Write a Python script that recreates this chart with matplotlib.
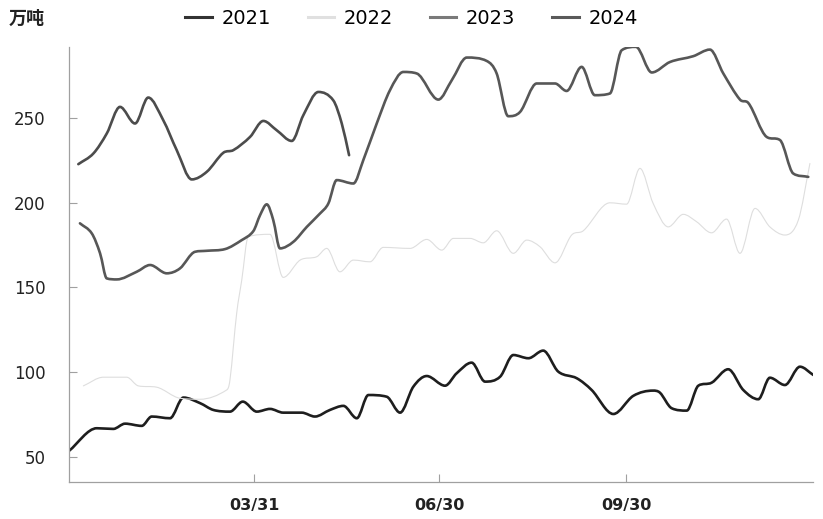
import numpy as np
import matplotlib
matplotlib.use("Agg")
import matplotlib.pyplot as plt
from matplotlib.path import Path
from matplotlib.patches import PathPatch
from matplotlib.lines import Line2D

plt.rcParams['font.family'] = ['DejaVu Sans', 'Noto Sans CJK SC']

# day of year (0 = Jan 1) and weekly stock, 万吨
days_2021 = [-2.2, 11.5, 19.6, 25.4, 33.6, 38.5, 47.5, 54.1, 62.3, 68.8, 77.0, 83.3,
             90.2, 96.7, 103.2, 112.3, 118.8, 126.2, 132.8, 139.4, 145.1, 154.1, 160.7,
             167.2, 173.8, 182.8, 188.5, 195.9, 202.5, 209.9, 216.4, 223.8, 231.1, 238.5,
             247.6, 254.9, 265.6, 275.4, 285.2, 288.5, 294.3, 301.7, 307.4, 314.0, 322.1,
             329.5, 336.9, 342.6, 350.0, 357.4, 364.0]
vals_2021 = [53.5, 66.9, 66.5, 69.6, 68.3, 73.8, 72.8, 85.0, 81.7, 77.7, 76.7, 82.6,
             76.7, 78.3, 76.1, 76.1, 73.8, 77.7, 80.1, 72.8, 86.5, 85.5, 76.1,
             91.4, 97.7, 92.0, 99.3, 105.6, 94.4, 97.3, 110.1, 108.2, 112.7, 100.3,
             96.4, 89.5, 75.3, 86.0, 89.1, 87.9, 78.7, 77.3, 92.0, 93.8, 101.7,
             89.5, 84.0, 96.7, 92.4, 103.2, 98.3]

days_2022 = [4.9, 14.7, 26.2, 31.9, 41.0, 52.4, 62.3, 75.4, 77.0, 80.3, 82.8, 86.0,
             96.7, 103.2, 111.5, 119.7, 124.6, 131.1, 137.7, 145.9, 152.4, 165.6, 173.8,
             181.2, 186.9, 195.1, 201.6, 208.2, 216.4, 223.0, 229.5, 236.9, 245.1, 250.8,
             263.9, 272.1, 278.7, 285.2, 292.6, 300.0, 306.6, 313.9, 321.3, 327.9, 335.3,
             342.6, 350.0, 356.6, 362.3]
vals_2022 = [91.9, 97.0, 97.0, 91.9, 91.1, 84.6, 84.0, 89.5, 95.4, 134.7, 154.3, 179.9,
             181.3, 155.9, 166.1, 168.1, 173.0, 159.2, 166.1, 165.1, 173.6, 173.0, 178.3,
             172.0, 178.9, 178.9, 176.3, 183.4, 170.1, 177.9, 174.0, 164.5, 180.9, 183.4,
             199.9, 199.1, 220.2, 199.5, 185.7, 193.1, 188.7, 182.2, 190.3, 170.1, 196.6,
             185.7, 180.9, 189.7, 223.1]

days_2023 = [3.2, 9.0, 13.1, 16.4, 21.3, 31.1, 37.7, 45.9, 52.4, 59.8, 65.6, 74.6,
             82.8, 88.5, 91.8, 95.1, 98.3, 101.6, 108.2, 114.8, 121.3, 125.4, 129.5,
             137.7, 142.6, 149.2, 155.7, 162.3, 168.9, 179.5, 186.2, 193.5, 203.3, 208.2,
             213.9, 219.7, 227.9, 236.9, 242.6, 250.0, 256.5, 263.9, 269.7, 276.7, 284.5,
             293.5, 304.9, 313.1, 319.7, 327.9, 332.0, 341.0, 347.6, 354.1, 361.5]
vals_2023 = [187.8, 181.9, 170.1, 155.3, 154.7, 159.2, 163.2, 158.3, 161.2, 171.0, 171.6, 172.6,
             177.9, 183.2, 192.6, 199.0, 189.7, 173.0, 176.9, 185.7, 193.6, 199.5, 213.3,
             211.3, 225.1, 246.7, 266.3, 277.1, 276.2, 260.8, 272.4, 285.6, 283.6, 276.2,
             251.0, 253.5, 270.3, 270.3, 265.9, 280.1, 263.4, 264.4, 289.9, 291.9, 276.8,
             283.0, 286.4, 290.3, 276.2, 260.8, 258.8, 238.8, 236.9, 217.2, 215.2]

days_2024 = [2.4, 9.8, 16.4, 22.9, 30.3, 36.8, 44.2, 50.8, 58.2, 65.6, 73.7, 78.7,
             86.9, 93.4, 100.0, 107.4, 113.1, 120.5, 127.8, 132.0, 135.6]
vals_2024 = [222.7, 229.0, 240.8, 256.5, 246.7, 262.0, 248.6, 231.0, 213.7, 218.2, 229.4, 231.0,
             238.8, 248.2, 242.7, 236.4, 251.6, 265.3, 260.4, 246.7, 228.0]

years = ['2021', '2022', '2023', '2024']
line_colors = ['#1e1e1e', '#dedede', '#575757', '#4c4c4c']
legend_colors = ['#333333', '#e0e0e0', '#7a7a7a', '#5a5a5a']
widths = [1.9, 0.8, 1.9, 1.9]

tick_days = [89, 180, 272]
tick_labels = ['03/31', '06/30', '09/30']


def smooth_path(xs, ys):
    # monotone cubic (Fritsch-Carlson) drawn as bezier segments
    xs = np.asarray(xs, float)
    ys = np.asarray(ys, float)
    n = len(xs)
    h = np.diff(xs)
    d = np.diff(ys) / h
    m = np.zeros(n)
    m[0] = d[0]
    m[-1] = d[-1]
    for i in range(1, n - 1):
        if d[i - 1] * d[i] <= 0:
            m[i] = 0.0
        else:
            m[i] = (ys[i + 1] - ys[i - 1]) / (xs[i + 1] - xs[i - 1])
            lim = 3 * min(abs(d[i - 1]), abs(d[i]))
            m[i] = np.sign(m[i]) * min(abs(m[i]), lim)
    verts = [(xs[0], ys[0])]
    codes = [Path.MOVETO]
    for i in range(n - 1):
        verts += [(xs[i] + h[i] / 3, ys[i] + m[i] * h[i] / 3),
                  (xs[i + 1] - h[i] / 3, ys[i + 1] - m[i + 1] * h[i] / 3),
                  (xs[i + 1], ys[i + 1])]
        codes += [Path.CURVE4] * 3
    return Path(verts, codes)


fig = plt.figure(figsize=(8.23, 5.19), dpi=100)
ax = fig.add_axes([0.0838, 0.0707, 0.904, 0.8393])

series = [(days_2021, vals_2021), (days_2022, vals_2022),
          (days_2023, vals_2023), (days_2024, vals_2024)]
order = [1, 0, 2, 3]
for k in order:
    xs, ys = series[k]
    patch = PathPatch(smooth_path(xs, ys), fill=False, edgecolor=line_colors[k],
                      lw=widths[k], capstyle='round', joinstyle='round', zorder=2 + k)
    ax.add_patch(patch)

ax.set_xlim(-2.2, 363.8)
ax.set_ylim(35, 292)
ax.set_yticks([50, 100, 150, 200, 250])
ax.set_xticks(tick_days)
ax.set_xticklabels(tick_labels, fontsize=11.5, fontweight='bold', color='#222222')

for side in ['top', 'right']:
    ax.spines[side].set_visible(False)
for side in ['left', 'bottom']:
    ax.spines[side].set_color('#a0a0a0')
    ax.spines[side].set_linewidth(0.9)

ax.tick_params(axis='y', direction='in', length=6, color='#a0a0a0', pad=17,
               labelsize=12, labelcolor='#222222')
ax.tick_params(axis='x', direction='in', length=6, color='#a0a0a0', pad=11)

fig.text(0.01, 0.965, '万吨', fontsize=13, fontweight='bold', color='#222222',
         ha='left', va='center', family=['Noto Sans CJK SC', 'DejaVu Sans'])

handles = [Line2D([0], [0], color=legend_colors[k], lw=2.2) for k in range(4)]
fig.legend(handles, years, loc='center', bbox_to_anchor=(0.5, 0.965), ncol=4,
           frameon=False, fontsize=14, handlelength=1.35, handletextpad=0.5,
           columnspacing=1.9)

fig.savefig('out.png', dpi=100)
